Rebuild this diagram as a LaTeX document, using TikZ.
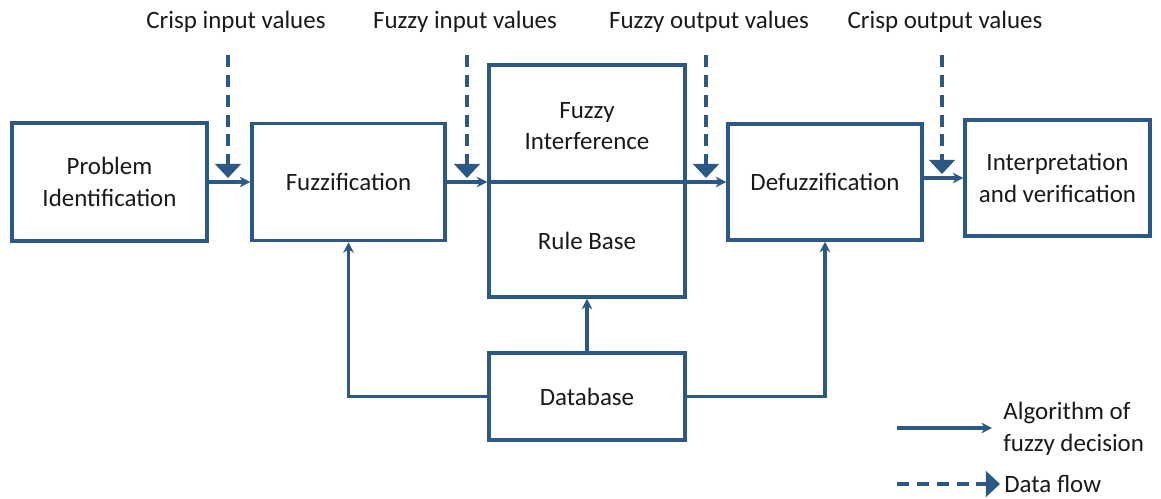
\documentclass[tikz,border=0pt]{standalone}
\usepackage{fontspec}
\setmainfont{Carlito}
\usetikzlibrary{arrows.meta,positioning}
\definecolor{flowblue}{RGB}{44,88,134}
\tikzstyle{block} = [rectangle, draw=flowblue, line width=2pt, align=center, inner sep=0pt, font=\fontsize{14.2}{18}\selectfont, text=black!90]
\tikzstyle{flowtext} = [inner sep=0pt, align=center, font=\fontsize{14.2}{18}\selectfont, text=black!90]
\tikzstyle{arrow} = [draw=flowblue, line width=2pt, -{Stealth[length=6pt,width=6pt]}]
\tikzstyle{dataflow} = [draw=flowblue, line width=1.8pt, dash pattern=on 6.8pt off 4.5pt, -{Triangle[length=8pt,width=14.5pt]}]

\begin{document}
\begin{tikzpicture}[x=0.02cm,y=-0.02cm]
\useasboundingbox (0,0) rectangle (1161,498);

\node(problem)[block,minimum width=3.9cm,minimum height=2.36cm] at (109.5,182){Problem\\Identification};
\node(fuzz)[block,minimum width=3.86cm,minimum height=2.34cm] at (348.5,182){Fuzzification};
\node(infer)[block,minimum width=3.92cm,minimum height=4.64cm] at (587,181){};
\node(infertext)[flowtext] at (587,126){Fuzzy\\Interference};
\node(rules)[flowtext] at (587,241){Rule Base};
\node(defuzz)[block,minimum width=3.88cm,minimum height=2.32cm] at (825,182){Defuzzification};
\node(interp)[block,minimum width=3.7cm,minimum height=2.32cm] at (1057.5,178){Interpretation\\and verification};
\node(database)[block,minimum width=3.92cm,minimum height=1.74cm] at (587,396.5){Database};

% top labels
\node(crispin)[flowtext] at (236,22){Crisp input values};
\node(fuzzyin)[flowtext] at (465,22){Fuzzy input values};
\node(fuzzyout)[flowtext] at (709,22){Fuzzy output values};
\node(crispout)[flowtext] at (945,22){Crisp output values};

\draw[arrow](problem)--(fuzz);
\draw[arrow](fuzz)--(infer.west|-fuzz);
\draw[arrow](infer.west|-fuzz)--(defuzz);
\draw[arrow](defuzz.east|-interp)--(interp);
\draw[arrow](database)--(infer);
\draw[arrow](database.west)-|(fuzz);
\draw[arrow](database.east)-|(defuzz);

% data flow markers
\coordinate(crispintop) at (228,55);
\coordinate(crispintip) at (228,178);
\coordinate(fuzzyintop) at (467,55);
\coordinate(fuzzyintip) at (467,178);
\coordinate(fuzzyouttop) at (706,55);
\coordinate(fuzzyouttip) at (706,178);
\coordinate(crispouttop) at (942,55);
\coordinate(crispouttip) at (942,174);
\draw[dataflow](crispintop)--(crispintip);
\draw[dataflow](fuzzyintop)--(fuzzyintip);
\draw[dataflow](fuzzyouttop)--(fuzzyouttip);
\draw[dataflow](crispouttop)--(crispouttip);

% legend
\coordinate(algstart) at (897,428);
\coordinate(algend) at (992,428);
\draw[arrow](algstart)--(algend);
\node(algtext)[flowtext,anchor=west,align=left] at (1003,429){Algorithm of\\fuzzy decision};
\coordinate(flowstart) at (897,484);
\coordinate(flowend) at (1000,484);
\draw[dataflow](flowstart)--(flowend);
\node(flowlabel)[flowtext,anchor=west] at (1004,484){Data flow};
\end{tikzpicture}
\end{document}
